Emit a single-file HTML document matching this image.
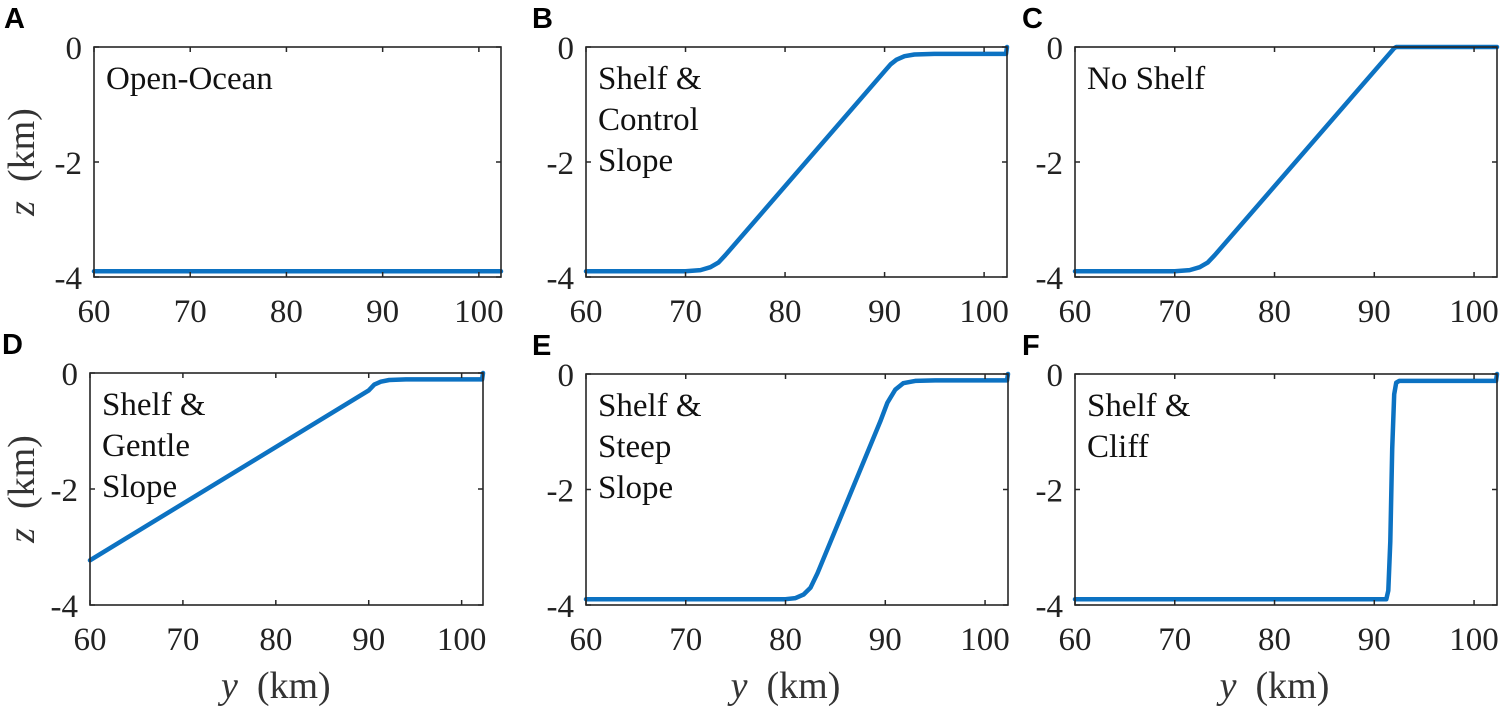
<!DOCTYPE html>
<html><head><meta charset="utf-8">
<style>
html,body{margin:0;padding:0;background:#fff;}
svg{display:block;}
.tick{font-family:"Liberation Serif",serif;font-size:33px;fill:#222;}
.ann{font-family:"Liberation Serif",serif;font-size:33px;fill:#111;}
.lbl{font-family:"Liberation Sans",sans-serif;font-size:29px;font-weight:bold;fill:#000;}
.ttl{font-family:"Liberation Serif",serif;font-size:38px;fill:#333;}
</style></head>
<body>
<svg id="fig" width="1503" height="709" viewBox="0 0 1503 709" xmlns="http://www.w3.org/2000/svg"></svg>
<script>
const xTicks = [60, 70, 80, 90, 100];
const zTicks = [0, -2, -4];
const xMin = 60, xMax = 102.3, zMin = -4, zMax = 0;

const yA = [60, 102.3];
const zA = [-3.9, -3.9];
const yB = [60, 70, 71.5, 72.5, 73.3, 74, 90, 90.6, 91.2, 92, 93, 95, 102.2, 102.3];
const zB = [-3.9, -3.9, -3.88, -3.83, -3.75, -3.62, -0.42, -0.3, -0.22, -0.16, -0.13, -0.12, -0.12, 0];
const yC = [60, 70, 71.5, 72.5, 73.3, 74, 92, 92.2, 102.3];
const zC = [-3.9, -3.9, -3.88, -3.83, -3.75, -3.62, -0.02, 0, 0];
const yD = [60, 90, 90.6, 91.3, 92.2, 94, 102.2, 102.3];
const zD = [-3.23, -0.3, -0.2, -0.15, -0.12, -0.11, -0.11, 0];
const yE = [60, 80, 81, 81.8, 82.5, 83.2, 89.5, 90.2, 91, 91.8, 93, 95, 102.2, 102.3];
const zE = [-3.9, -3.9, -3.88, -3.82, -3.7, -3.45, -0.82, -0.5, -0.27, -0.16, -0.12, -0.11, -0.11, 0];
const yF = [60, 91.2, 91.4, 91.6, 91.8, 92.0, 92.2, 92.5, 102.2, 102.3];
const zF = [-3.9, -3.9, -3.75, -2.9, -1.3, -0.35, -0.15, -0.12, -0.12, 0];

const panels = [
 {id:'a', L:94, R:501, T:47, B:277, ys:yA, zs:zA, lines:['Open-Ocean'], ylab:true, xlab:false, letter:'A', lx:4},
 {id:'b', L:586, R:1007, T:47, B:277, ys:yB, zs:zB, lines:['Shelf &','Control','Slope'], ylab:false, xlab:false, letter:'B', lx:532},
 {id:'c', L:1075, R:1497, T:47, B:277, ys:yC, zs:zC, lines:['No Shelf'], ylab:false, xlab:false, letter:'C', lx:1022},
 {id:'d', L:90, R:483, T:373, B:605, ys:yD, zs:zD, lines:['Shelf &','Gentle','Slope'], ylab:true, xlab:true, letter:'D', lx:2},
 {id:'e', L:586, R:1008, T:374, B:605, ys:yE, zs:zE, lines:['Shelf &','Steep','Slope'], ylab:false, xlab:true, letter:'E', lx:532},
 {id:'f', L:1075, R:1497, T:374, B:605, ys:yF, zs:zF, lines:['Shelf &','Cliff'], ylab:false, xlab:true, letter:'F', lx:1022}
];
const NS = 'http://www.w3.org/2000/svg';
const svg = document.getElementById('fig');
function mk(tag, attrs, parent, text){
  const e = document.createElementNS(NS, tag);
  for (const k in attrs) e.setAttribute(k, attrs[k]);
  if (text !== undefined) e.textContent = text;
  parent.appendChild(e); return e;
}
panels.forEach(p => {
  const g = mk('g', {}, svg);
  
  
  const sx = v => p.L + (v - xMin) / (xMax - xMin) * (p.R - p.L);
  const sz = v => p.B - (v - zMin) / (zMax - zMin) * (p.B - p.T);
  const d = p.ys.map((y, i) => (i ? 'L' : 'M') + sx(y).toFixed(1) + ' ' + sz(p.zs[i]).toFixed(1)).join(' ');
  const path = mk('path', {d: d, fill: 'none', stroke: '#0c72c2', 'stroke-width': 4.5, 'stroke-linejoin': 'round', 'stroke-linecap': 'round'}, g);
  
  
  const box = mk('rect', {x: p.L, y: p.T, width: p.R - p.L, height: p.B - p.T, fill: 'none', stroke: '#262626', 'stroke-width': 1.6}, g);
  
  
  xTicks.forEach(t => {
    const x = sx(t);
    mk('line', {x1: x, y1: p.B, x2: x, y2: p.B - 5, stroke: '#262626', 'stroke-width': 1.5}, g);
    mk('line', {x1: x, y1: p.T, x2: x, y2: p.T + 5, stroke: '#262626', 'stroke-width': 1.5}, g);
    const tl = mk('text', {x: x, y: p.B + 45, 'text-anchor': 'middle', class: 'tick'}, g, String(t));
    
    
  });
  zTicks.forEach(t => {
    const y = sz(t);
    mk('line', {x1: p.L, y1: y, x2: p.L + 5, y2: y, stroke: '#262626', 'stroke-width': 1.5}, g);
    mk('line', {x1: p.R, y1: y, x2: p.R - 5, y2: y, stroke: '#262626', 'stroke-width': 1.5}, g);
    const tl = mk('text', {x: p.L - 12, y: y + 12, 'text-anchor': 'end', class: 'tick'}, g, String(t));
    
    
  });
  const ann = mk('text', {x: p.L + 12, y: p.T + 42, class: 'ann'}, g);
  
  
  p.lines.forEach((s, i) => mk('tspan', {x: p.L + 12, dy: i ? 41 : 0}, ann, s));
  const lt = mk('text', {x: p.lx, y: p.T - 19, class: 'lbl'}, g, p.letter);
  
  
  if (p.ylab) {
    const cy = (p.T + p.B) / 2;
    const yl = mk('text', {x: 0, y: 0, transform: 'translate(34,' + cy + ') rotate(-90)', 'text-anchor': 'middle', class: 'ttl'}, g);
    
    
    mk('tspan', {'font-style': 'italic'}, yl, 'z');
    mk('tspan', {}, yl, '\u00a0\u00a0(km)');
  }
  if (p.xlab) {
    const cx = (sx(60) + sx(100)) / 2;
    const xl = mk('text', {x: cx, y: p.B + 93, 'text-anchor': 'middle', class: 'ttl'}, g);
    
    
    mk('tspan', {'font-style': 'italic'}, xl, 'y');
    mk('tspan', {}, xl, '\u00a0\u00a0(km)');
  }
});
</script>
</body></html>
